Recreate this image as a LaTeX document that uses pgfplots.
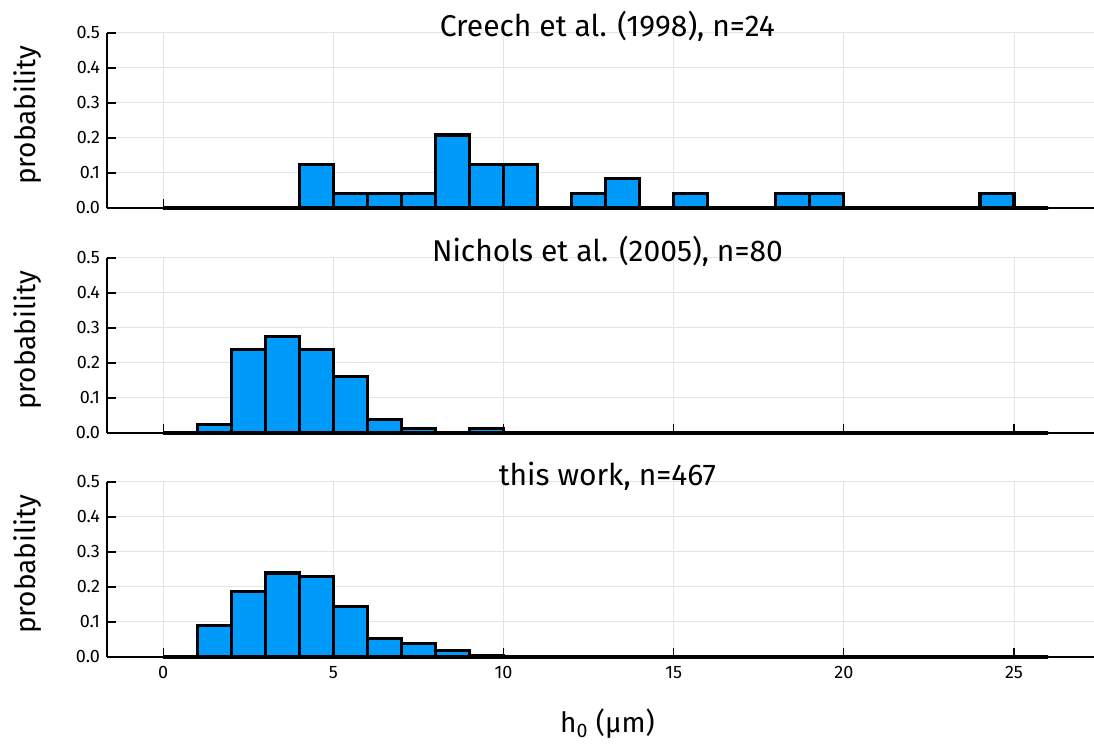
\documentclass[border=0pt]{standalone}
\usepackage{pgfplots}
\pgfplotsset{compat=1.18}
\usepackage{pgfplotstable}
\usepackage{fontspec}
\setmainfont{Fira Sans}
\definecolor{barblue}{RGB}{0,154,250}
\definecolor{gridgray}{RGB}{228,228,228}

\pgfplotstableread{
x y
0 0
1 0
2 0
3 0
4 0.125
5 0.0417
6 0.0417
7 0.0417
8 0.2083
9 0.125
10 0.125
11 0
12 0.0417
13 0.0833
14 0
15 0.0417
16 0
17 0
18 0.0417
19 0.0417
20 0
21 0
22 0
23 0
24 0.0417
25 0
26 0
}\creech

\pgfplotstableread{
x y
0 0
1 0.025
2 0.2375
3 0.275
4 0.2375
5 0.1625
6 0.0375
7 0.0125
8 0
9 0.0125
10 0
11 0
12 0
13 0
14 0
15 0
16 0
17 0
18 0
19 0
20 0
21 0
22 0
23 0
24 0
25 0
26 0
}\nichols

\pgfplotstableread{
x y
0 0
1 0.0899
2 0.1863
3 0.2398
4 0.2291
5 0.1435
6 0.0535
7 0.0385
8 0.0193
9 0.0043
10 0
11 0
12 0
13 0
14 0
15 0
16 0
17 0
18 0
19 0
20 0
21 0
22 0
23 0
24 0
25 0
26 0
}\thiswork

\pgfplotsset{
  hist/.style={
    scale only axis, width=493.5pt, height=87.5pt,
    anchor=south west,
    xmin=-1.65, xmax=27.35, ymin=0, ymax=0.5,
    axis lines=left, axis line style={-, line width=0.6pt},
    xtick={0,5,10,15,20,25}, ytick={0,0.1,0.2,0.3,0.4,0.5},
    yticklabel style={/pgf/number format/.cd, fixed, fixed zerofill, precision=1},
    /pgf/number format/assume math mode=true,
    tick align=inside, major tick length=4.5pt,
    tick style={black, line width=0.6pt},
    grid=major, major grid style={gridgray, line width=0.5pt},
    ticklabel style={font=\fontsize{9}{10}\selectfont},
    xticklabel style={yshift=-1pt},
    clip=false,
  },
  bars/.style={ybar interval, fill=barblue, draw=black, line width=1.6pt},
}

\newcommand{\ttl}[1]{\node[anchor=base, font=\fontsize{15}{17}\selectfont] at (axis description cs:0.507,1) [yshift=-2pt] {#1};}
\newcommand{\ylab}{\node[rotate=90, anchor=center, font=\fontsize{14}{16}\selectfont] at (axis description cs:-0.08,0.53) {probability};}

\begin{document}
\begin{tikzpicture}
\useasboundingbox (0,0) rectangle (547pt,372pt);
\begin{axis}[hist, at={(53.5pt,268pt)}, xticklabels={}]
\addplot[bars] table[x=x,y=y] {\creech};
\ttl{Creech et al. (1998), n=24}
\ylab
\end{axis}
\begin{axis}[hist, at={(53.5pt,155.5pt)}, xticklabels={}]
\addplot[bars] table[x=x,y=y] {\nichols};
\ttl{Nichols et al. (2005), n=80}
\ylab
\end{axis}
\begin{axis}[hist, at={(53.5pt,43.5pt)}]
\addplot[bars] table[x=x,y=y] {\thiswork};
\ttl{this work, n=467}
\ylab
\node[anchor=base, font=\fontsize{14}{16}\selectfont] at (axis description cs:0.507,0) [yshift=-38pt] {h\textsubscript{0} (µm)};
\end{axis}
\end{tikzpicture}
\end{document}
